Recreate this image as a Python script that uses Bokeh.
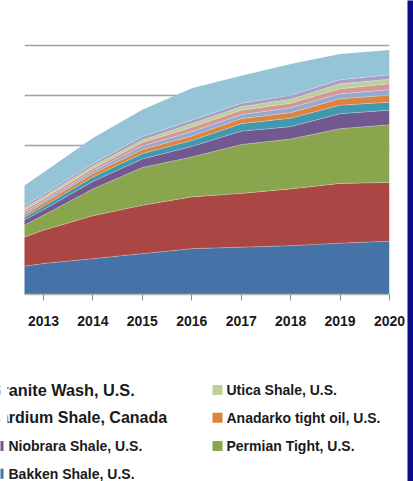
from bokeh.plotting import figure
from bokeh.models import ColumnDataSource, Range1d, FixedTicker, Grid
from bokeh.layouts import row, column
from bokeh.core.properties import value
from bokeh.embed import file_html
from bokeh.resources import INLINE

# ---------------- data (units = gridline steps) ----------------
years = [2012, 2013, 2014, 2015, 2016, 2017, 2018, 2019, 2020]
tick_years = [2013, 2014, 2015, 2016, 2017, 2018, 2019, 2020]
grid_values = [1, 2, 3, 4, 5]

bakken    = [0.49, 0.62, 0.72, 0.82, 0.92, 0.95, 0.98, 1.03, 1.07]
eagleford = [0.44, 0.67, 0.86, 0.97, 1.04, 1.08, 1.14, 1.20, 1.18]
permian   = [0.16, 0.30, 0.54, 0.76, 0.80, 0.98, 1.00, 1.10, 1.16]
niobrara  = [0.08, 0.11, 0.15, 0.17, 0.21, 0.27, 0.25, 0.30, 0.29]
series5   = [0.03, 0.07, 0.09, 0.11, 0.12, 0.15, 0.17, 0.17, 0.16]
anadarko  = [0.03, 0.06, 0.07, 0.08, 0.09, 0.10, 0.11, 0.13, 0.14]
cardium   = [0.05, 0.04, 0.05, 0.07, 0.09, 0.08, 0.10, 0.10, 0.11]
series8   = [0.05, 0.05, 0.05, 0.07, 0.09, 0.09, 0.09, 0.10, 0.12]
utica     = [0.05, 0.04, 0.05, 0.05, 0.07, 0.07, 0.08, 0.10, 0.09]
granite   = [0.05, 0.05, 0.05, 0.07, 0.07, 0.07, 0.08, 0.08, 0.09]
series11  = [0.34, 0.44, 0.51, 0.54, 0.64, 0.55, 0.63, 0.52, 0.50]

series_names = [
    "Bakken Shale, U.S.", "Series 2", "Permian Tight, U.S.", "Niobrara Shale, U.S.",
    "Series 5", "Anadarko tight oil, U.S.", "Cardium Shale, Canada", "Series 8",
    "Utica Shale, U.S.", "Granite Wash, U.S.", "Series 11",
]
series_values = [bakken, eagleford, permian, niobrara, series5, anadarko,
                 cardium, series8, utica, granite, series11]
colors = ["#4572A7", "#AA4643", "#89A54E", "#71588F", "#4198AF", "#DB843D",
          "#93A9D0", "#D39895", "#BBD09A", "#AA9EC3", "#94C4D5"]

# visible legend entries (series index), as laid out in the picture
legend_left = [9, 6, 3, 0]      # Granite Wash, Cardium, Niobrara, Bakken
legend_right = [8, 5, 2]        # Utica, Anadarko, Permian

FONT = "Liberation Sans"
BAND = "#0A0A8C"

# ---------------- chart ----------------
data = {"year": years}
for n, v in zip(series_names, series_values):
    data[n] = v
src = ColumnDataSource(data)

p = figure(width=407, height=340, x_range=Range1d(2012.616, 2020), y_range=Range1d(0, 5.1),
           output_backend="svg", toolbar_location=None, y_axis_location=None,
           min_border_left=24, min_border_right=18, min_border_top=40, min_border_bottom=46,
           outline_line_color=None, background_fill_color="white", border_fill_color="white")
p.frame_align = False
p.grid.visible = False
p.add_layout(Grid(dimension=1, ticker=FixedTicker(ticks=grid_values),
                  grid_line_color="#A0A0A0", grid_line_width=1.3), "center")

p.varea_stack(stackers=series_names, x="year", color=colors, source=src)
p.vline_stack(stackers=series_names[:-1], x="year", source=src,
              color="white", alpha=0.35, line_width=0.8)

ax = p.xaxis[0]
ax.ticker = FixedTicker(ticks=tick_years)
ax.axis_line_color = "#B4B4B4"
ax.axis_line_width = 1.3
ax.major_tick_line_color = "#909090"
ax.major_tick_out = 6
ax.major_tick_in = 0
ax.minor_tick_line_color = None
ax.major_label_text_font = FONT
ax.major_label_text_font_size = "14px"
ax.major_label_text_font_style = "bold"
ax.major_label_text_color = "#1A1A1A"
ax.major_label_standoff = 15

# ---------------- legend ----------------
leg = figure(width=407, height=141, x_range=Range1d(0, 407), y_range=Range1d(481, 340),
             output_backend="svg", toolbar_location=None, min_border=0,
             x_axis_location=None, y_axis_location=None, outline_line_color=None,
             background_fill_color="white", border_fill_color="white")
leg.frame_align = False
leg.grid.visible = False

row_y = [389.5, 417.3, 445.5, 473.3]
left_text_x = [-10.8, -12.1, 8, 8]
left_font = ["16.3px", "16px", "14px", "14px"]
right_marker_x = 212

mx, my, mc = [], [], []
for r, idx in enumerate(legend_left):
    mx.append(left_text_x[r] - 10); my.append(row_y[r]); mc.append(colors[idx])
    leg.text(x=[left_text_x[r]], y=[row_y[r]], text=[series_names[idx]],
             text_font=value(FONT), text_font_size=left_font[r], text_font_style="bold",
             text_color="#1A1A1A", text_baseline="middle", text_align="left")

# the picture's left edge hides the start of the first two left-column entries
leg.quad(left=[-40], right=[7], bottom=[376], top=[431], fill_color="white", line_color=None)

tx, ty, tt = [], [], []
for r, idx in enumerate(legend_right):
    mx.append(right_marker_x + 5); my.append(row_y[r]); mc.append(colors[idx])
    tx.append(right_marker_x + 14); ty.append(row_y[r]); tt.append(series_names[idx])

leg.rect(x=mx, y=my, width=10, height=10, fill_color=mc, line_color=None)
leg.text(x=tx, y=ty, text=tt, text_font=value(FONT), text_font_size="14px",
         text_font_style="bold", text_color="#1A1A1A", text_baseline="middle", text_align="left")

# ---------------- right band ----------------
band = figure(width=6, height=481, output_backend="svg", toolbar_location=None, min_border=0,
              x_axis_location=None, y_axis_location=None, outline_line_color=None,
              background_fill_color=BAND, border_fill_color=BAND)
band.frame_align = False
band.grid.visible = False

layout = row(column(p, leg), band)
open("out.html", "w").write(file_html(layout, INLINE))
